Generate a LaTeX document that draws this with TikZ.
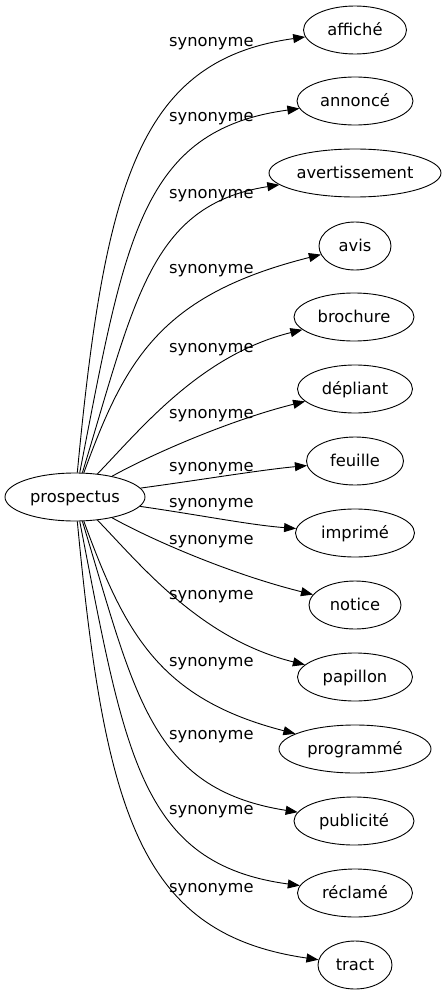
\documentclass[tikz,border=0pt]{standalone}
\usepackage{fontspec}
\setmainfont{DejaVu Sans}
\usetikzlibrary{shapes.geometric,arrows.meta}
\begin{document}
\begin{tikzpicture}[x=1pt,y=-1pt,
  word/.style={draw,ellipse,line width=0.9pt,inner sep=0pt,minimum height=48pt,
    text height=16pt,text depth=5pt,font=\fontsize{16.3}{19}\selectfont},
  syn/.style={-{Triangle[length=12pt,width=9pt]},line width=0.9pt},
  rel/.style={anchor=base west,inner sep=0pt,font=\fontsize{16.3}{19}\selectfont}]
  \useasboundingbox (0,0) rectangle (446,995);

  \node[word,minimum width=140pt] (prospectus) at (75,497) {prospectus};

  \node[word,minimum width=103pt] (affiche) at (355,30) {affiché};
  \node[word,minimum width=116pt] (annonce) at (355,101) {annoncé};
  \node[word,minimum width=172pt] (avertissement) at (355,173) {avertissement};
  \node[word,minimum width=72pt] (avis) at (355,246) {avis};
  \node[word,minimum width=120pt] (brochure) at (354,317) {brochure};
  \node[word,minimum width=115pt] (depliant) at (355,389) {dépliant};
  \node[word,minimum width=97pt] (feuille) at (355,461) {feuille};
  \node[word,minimum width=119pt] (imprime) at (355,533) {imprimé};
  \node[word,minimum width=92pt] (notice) at (355,605) {notice};
  \node[word,minimum width=115pt] (papillon) at (355,677) {papillon};
  \node[word,minimum width=152pt] (programme) at (355,749) {programmé};
  \node[word,minimum width=120pt] (publicite) at (354,821) {publicité};
  \node[word,minimum width=115pt] (reclame) at (355,893) {réclamé};
  \node[word,minimum width=74pt] (tract) at (355,965) {tract};

  % edge labels
  \node[rel] (syn1) at (169,46.7) {synonyme};
  \node[rel] (syn2) at (169,122) {synonyme};
  \node[rel] (syn3) at (169,199) {synonyme};
  \node[rel] (syn4) at (169,273) {synonyme};
  \node[rel] (syn5) at (169,352) {synonyme};
  \node[rel] (syn6) at (169,418) {synonyme};
  \node[rel] (syn7) at (169,471) {synonyme};
  \node[rel] (syn8) at (169,507) {synonyme};
  \node[rel] (syn9) at (169,544) {synonyme};
  \node[rel] (syn10) at (169,599) {synonyme};
  \node[rel] (syn11) at (169,666) {synonyme};
  \node[rel] (syn12) at (169,739) {synonyme};
  \node[rel] (syn13) at (169,814) {synonyme};
  \node[rel] (syn14) at (169,892) {synonyme};

  % edges
  \draw[syn] (prospectus) .. controls (105,180) and (140,60) .. (affiche);
  \draw[syn] (prospectus) .. controls (125,240) and (140,130) .. (annonce);
  \draw[syn] (prospectus) .. controls (135,300) and (150,205) .. (avertissement);
  \draw[syn] (prospectus) .. controls (125,360) and (160,295) .. (avis);
  \draw[syn] (prospectus) .. controls (140,430) and (200,355) .. (brochure);
  \draw[syn] (prospectus) .. controls (150,455) and (230,420) .. (depliant);
  \draw[syn] (prospectus) .. controls (200,480) and (260,470) .. (feuille);
  \draw[syn] (prospectus) .. controls (200,515) and (250,525) .. (imprime);
  \draw[syn] (prospectus) .. controls (150,539) and (230,574) .. (notice);
  \draw[syn] (prospectus) .. controls (140,564) and (200,639) .. (papillon);
  \draw[syn] (prospectus) .. controls (125,634) and (160,699) .. (programme);
  \draw[syn] (prospectus) .. controls (135,694) and (150,789) .. (publicite);
  \draw[syn] (prospectus) .. controls (125,754) and (140,864) .. (reclame);
  \draw[syn] (prospectus) .. controls (105,814) and (140,934) .. (tract);
\end{tikzpicture}
\end{document}
